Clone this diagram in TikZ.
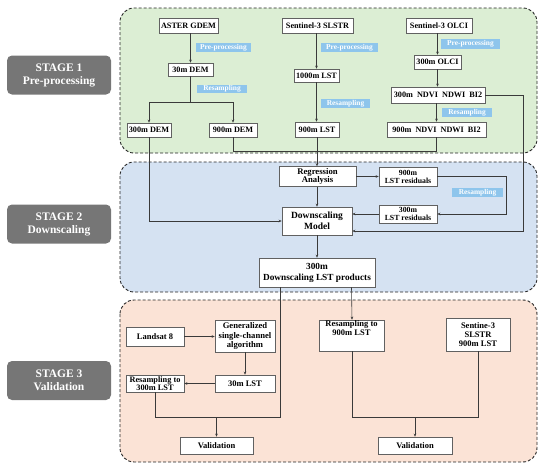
\documentclass[tikz,border=0pt]{standalone}
\usepackage{fontspec}
\setmainfont{Liberation Serif}
\usetikzlibrary{arrows.meta}
\definecolor{gfill}{HTML}{DCEED4}
\definecolor{bfill}{HTML}{D5E2F2}
\definecolor{ofill}{HTML}{FBE3D6}
\definecolor{lblue}{HTML}{8EC5EC}
\definecolor{sgray}{HTML}{767676}
\definecolor{lcol}{HTML}{3A3A3A}
\tikzset{
  panel/.style={draw=black!85, dashed, dash pattern=on 3pt off 2pt, line width=0.9pt, rounded corners=14pt},
  stagebox/.style={fill=sgray, draw=none, rounded corners=5pt, text=white, align=center,
    font=\bfseries\fontsize{11.5}{13}\selectfont, minimum width=104pt, minimum height=39pt, inner sep=0pt},
  box/.style={draw=lcol!80, line width=0.6pt, fill=white, align=center, inner sep=0pt,
    font=\bfseries\fontsize{8.2}{9}\selectfont},
  lbl/.style={fill=lblue, text=white, inner sep=0pt, font=\bfseries\fontsize{7.4}{8}\selectfont},
  conn/.style={draw=lcol, line width=0.6pt},
  arr/.style={conn, -{Stealth[length=3pt,width=2.6pt]}},
}
\begin{document}
\begin{tikzpicture}[x=1pt,y=-1pt]
\useasboundingbox (0,0) rectangle (550,471);
% panels
\draw[panel, fill=gfill] (120,8) rectangle (537,153);
\draw[panel, fill=bfill] (120,162) rectangle (537,292);
\draw[panel, fill=ofill] (120,300) rectangle (537,462);
% stage labels
\node[stagebox] (s1) at (59,75) {STAGE 1\\Pre-processing};
\node[stagebox] (s2) at (59,224) {STAGE 2\\Downscaling};
\node[stagebox] (s3) at (59,380.5) {STAGE 3\\Validation};
% stage 1 boxes
\node[box, minimum width=59pt, minimum height=15pt] (aster) at (188.5,25.5) {ASTER GDEM};
\node[box, minimum width=45pt, minimum height=13pt] (dem30) at (190.5,69.5) {30m DEM};
\node[box, minimum width=44pt, minimum height=14pt] (dem300) at (149,130) {300m DEM};
\node[box, minimum width=48pt, minimum height=14pt] (dem900) at (233,130) {900m DEM};
\node[box, minimum width=71pt, minimum height=15pt] (slstr) at (317.5,25.5) {Sentinel-3 SLSTR};
\node[box, minimum width=45pt, minimum height=13pt] (lst1000) at (316.5,75.5) {1000m LST};
\node[box, minimum width=44pt, minimum height=15pt] (lst900) at (317,129.5) {900m LST};
\node[box, minimum width=66pt, minimum height=15pt] (olci) at (439,25.5) {Sentinel-3 OLCI};
\node[box, minimum width=47pt, minimum height=14pt] (olci300) at (437.5,62) {300m OLCI};
\node[box, minimum width=94pt, minimum height=16pt] (ndvi300) at (438,95) {300m\enspace NDVI\enspace NDWI\enspace BI2};
\node[box, minimum width=99pt, minimum height=15pt] (ndvi900) at (436.5,129.5) {900m\enspace NDVI\enspace NDWI\enspace BI2};
% stage 1 labels
\node[lbl, minimum width=55pt, minimum height=9pt] (pp1) at (223.5,47.5) {Pre-processing};
\node[lbl, minimum width=50pt, minimum height=8pt] (rs1) at (222,89) {Resampling};
\node[lbl, minimum width=57pt, minimum height=9pt] (pp2) at (349.5,47.5) {Pre-processing};
\node[lbl, minimum width=49pt, minimum height=9pt] (rs2) at (345.5,103.5) {Resampling};
\node[lbl, minimum width=59pt, minimum height=10pt] (pp3) at (470.5,44) {Pre-processing};
\node[lbl, minimum width=50pt, minimum height=9pt] (rs3) at (467,112.5) {Resampling};
% stage 2 boxes
\node[box, minimum width=77pt, minimum height=20pt, font=\bfseries\fontsize{8.7}{8.8}\selectfont] (regr) at (317.5,176.5) {Regression\\Analysis};
\node[box, minimum width=58pt, minimum height=19pt, font=\bfseries\fontsize{7.8}{8}\selectfont] (res900) at (408,176.5) {900m\\LST residuals};
\node[box, minimum width=58pt, minimum height=18pt, font=\bfseries\fontsize{7.8}{8}\selectfont] (res300) at (408,214) {300m\\LST residuals};
\node[box, minimum width=70pt, minimum height=28pt, font=\bfseries\fontsize{9.5}{11}\selectfont] (dsm) at (317,221) {Downscaling\\Model};
\node[box, minimum width=116pt, minimum height=29pt, font=\bfseries\fontsize{9.3}{11}\selectfont] (prod) at (317,272.5) {300m\\Downscaling LST products};
\node[lbl, minimum width=51pt, minimum height=9pt] (rs4) at (477.5,192.5) {Resampling};
% stage 3 boxes
\node[box, minimum width=58pt, minimum height=19pt, font=\bfseries\fontsize{8.5}{9}\selectfont] (landsat) at (155,336.5) {Landsat 8};
\node[box, minimum width=60pt, minimum height=32pt, font=\bfseries\fontsize{8.6}{9.5}\selectfont] (gsca) at (245,336) {Generalized\\single-channel\\algorithm};
\node[box, minimum width=60pt, minimum height=17pt, font=\bfseries\fontsize{8.5}{9}\selectfont] (lst30) at (245,383.5) {30m LST};
\node[box, minimum width=58pt, minimum height=17pt, font=\bfseries\fontsize{8.3}{8.3}\selectfont] (rs300) at (155,383.5) {Resampling to\\300m LST};
\node[box, minimum width=73pt, minimum height=17pt, font=\bfseries\fontsize{8.5}{9}\selectfont] (val1) at (216.5,445.5) {Validation};
\node[box, minimum width=65pt, minimum height=31pt, font=\bfseries\fontsize{8.5}{9.5}\selectfont] (rs900) at (351.5,335.5) {Resampling to\\900m LST\\[5pt]};
\node[box, minimum width=64pt, minimum height=33pt, font=\bfseries\fontsize{8.5}{9}\selectfont] (sen3) at (478,334.5) {Sentine-3\\SLSTR\\900m LST};
\node[box, minimum width=74pt, minimum height=17pt, font=\bfseries\fontsize{8.5}{9}\selectfont] (val2) at (415,445.5) {Validation};
% junction coordinates
\coordinate (j1) at (190.5,102);
\coordinate (j2) at (233,151);
\coordinate (j3) at (436.5,151);
\coordinate (j4) at (523,95);
\coordinate (j5) at (523,231);
\coordinate (j6) at (506,176.5);
\coordinate (j7) at (506,214);
\coordinate (j8) at (149,221);
\coordinate (j9) at (280,417);
\coordinate (j10) at (155,417);
\coordinate (j11) at (216.5,417);
\coordinate (j12) at (352,417);
\coordinate (j13) at (478,417);
\coordinate (j14) at (415,417);
% stage 1 connectors
\draw[arr] (dem30.north |- aster.south) -- (dem30.north);
\draw[conn] (dem30.south) -- (j1);
\draw[arr] (j1) -| (dem300.north);
\draw[arr] (j1) -| (dem900.north);
\draw[arr] (slstr.south -| lst1000.north) -- (lst1000.north);
\draw[arr] (lst1000.south) -- (lst900.north -| lst1000.south);
\draw[arr] (olci.south -| olci300.north) -- (olci300.north);
\draw[arr] (olci300.south) -- (ndvi300.north -| olci300.south);
\draw[arr] (ndvi300.south -| ndvi900.north) -- (ndvi900.north);
\draw[conn] (dem900.south) -- (j2) -- (j3) -- (ndvi900.south);
\draw[arr] (lst900.south) -- (regr.north -| lst900.south);
% stage 2 connectors
\draw[arr] (ndvi300.east) -- (j4) -- (j5) -- (dsm.east |- j5);
\draw[arr] (dem300.south) -- (j8) -- (dsm.west |- j8);
\draw[arr] (regr.east) -- (res900.west);
\draw[arr] (res900.east) -- (j6) -- (j7) -- (res300.east);
\draw[arr] (res300.west) -- (dsm.east |- res300.west);
\draw[arr] (regr.south -| dsm.north) -- (dsm.north);
\draw[arr] (dsm.south) -- (prod.north);
% stage 3 connectors
\draw[conn] (prod.south -| j9) -- (j9) -- (j10) -- (rs300.south);
\draw[arr] (j11) -- (val1.north);
\draw[arr] (prod.south -| rs900.north) -- (rs900.north -| j12);
\draw[conn] (rs900.south -| j12) -- (j12) -- (j13) -- (sen3.south);
\draw[arr] (j14) -- (val2.north);
\draw[arr] (landsat.east) -- (gsca.west |- landsat.east);
\draw[arr] (gsca.south) -- (lst30.north);
\draw[arr] (lst30.west) -- (rs300.east |- lst30.west);
\end{tikzpicture}
\end{document}
